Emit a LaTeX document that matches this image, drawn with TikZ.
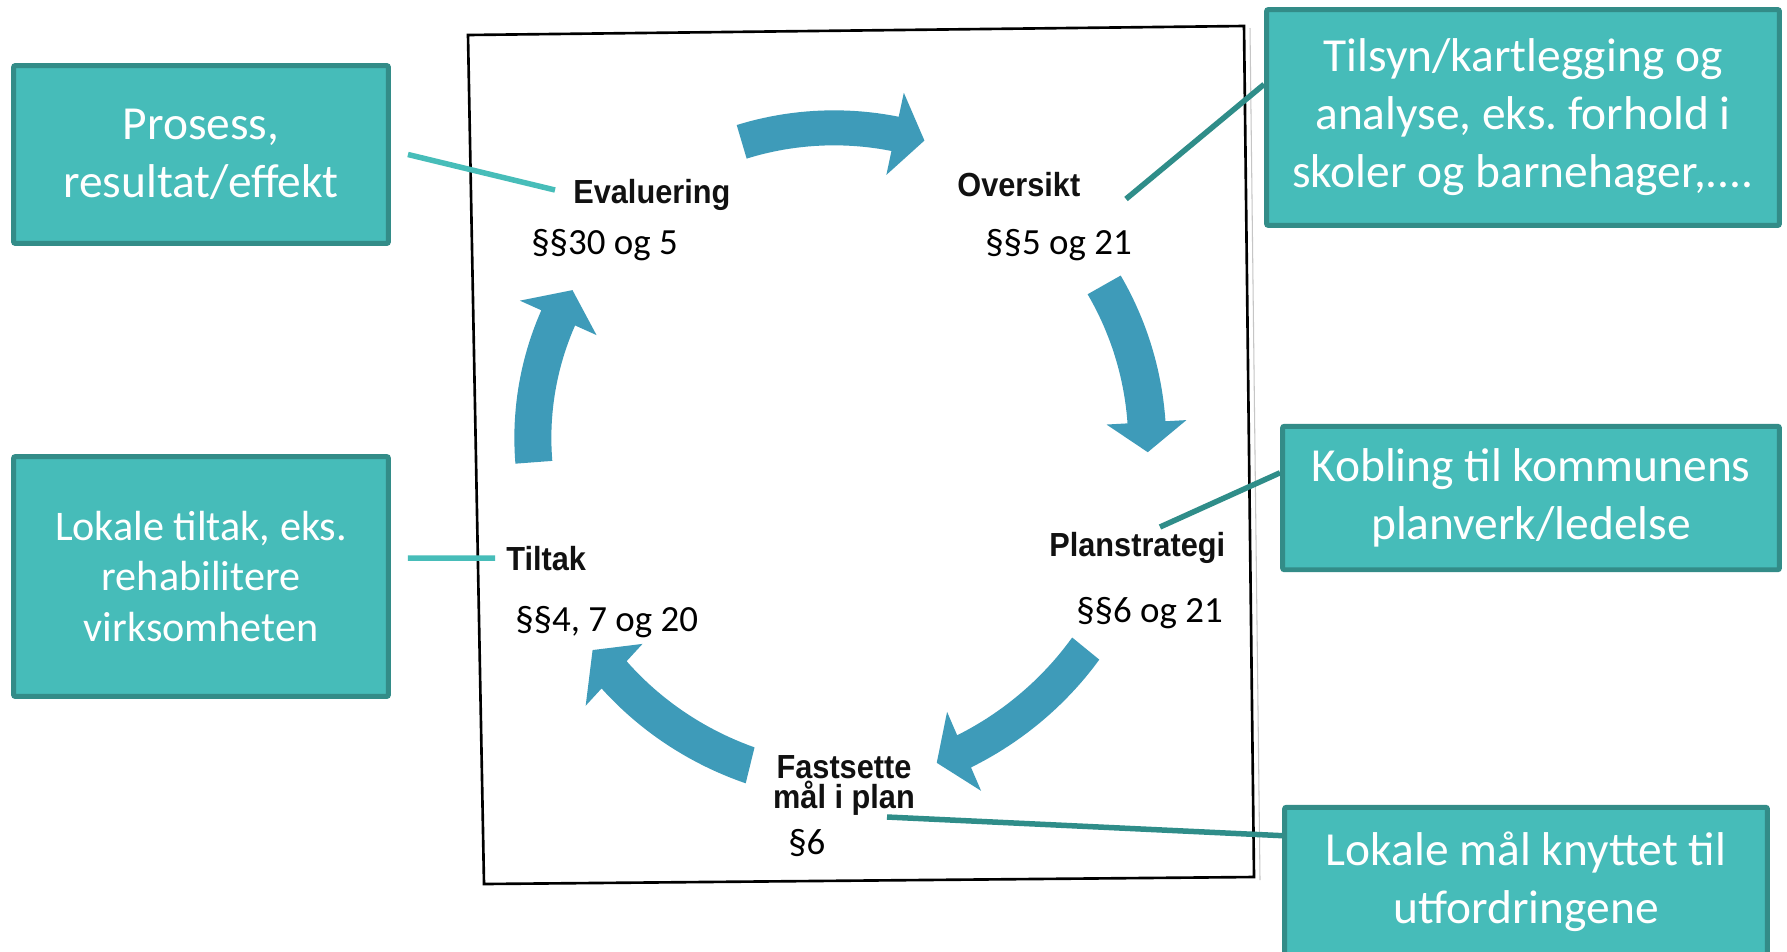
\documentclass[tikz,border=0pt]{standalone}
\usepackage{fontspec}
\setmainfont{Carlito}
\newfontfamily\scanfont{Liberation Sans}[FakeStretch=0.92]
\usetikzlibrary{calc}
\frenchspacing
\definecolor{boxfill}{HTML}{46BCB9}
\definecolor{boxline}{HTML}{338C88}
\definecolor{lightline}{HTML}{47BDB9}
\definecolor{darkline}{HTML}{2F8D89}
\definecolor{cyc}{HTML}{3E9BB9}
\definecolor{ink}{HTML}{111111}
\newcommand{\cycarrow}[8]{%
 \fill[cyc] plot[domain=#6:#7,samples=24] ({830+(#1+(#2-#1)*(\x-#6)/(#7-#6)+#4)*cos(\x)},{440+(#1+(#2-#1)*(\x-#6)/(#7-#6)+#4)*sin(\x)})
 -- ({830+(#2+#5)*cos(#7)},{440+(#2+#5)*sin(#7)})
 -- ({830+#3*cos(#8)},{440+#3*sin(#8)})
 -- ({830+(#2-#5)*cos(#7)},{440+(#2-#5)*sin(#7)})
 -- plot[domain=#7:#6,samples=24] ({830+(#1+(#2-#1)*(\x-#6)/(#7-#6)-#4)*cos(\x)},{440+(#1+(#2-#1)*(\x-#6)/(#7-#6)-#4)*sin(\x)})
 -- cycle;}
\tikzset{
  tealbox/.style={draw=boxline, fill=boxfill, line width=0.1cm, rounded corners=0.04cm,
    text=white, align=center, inner sep=0pt, font=\fontsize{27}{33}\selectfont},
  scanlbl/.style={inner sep=0pt, text=ink, font=\scanfont\bfseries\fontsize{19}{15.5}\selectfont},
  paralbl/.style={inner sep=0pt, text=black, font=\fontsize{21}{25}\selectfont},
  lightconn/.style={draw=lightline, line width=0.11cm},
  darkconn/.style={draw=darkline, line width=0.11cm},
  scanframe/.style={draw=black, line width=1.5pt, line join=miter}
}
\begin{document}
\begin{tikzpicture}[x=0.02cm, y=-0.02cm]
\useasboundingbox (0,0) rectangle (1787,951);
\clip (0,0) rectangle (1787,951);
\fill[white] (0,0) rectangle (1787,951);

% scanned page frame
\draw[scanframe] (468,35) -- (1244,26) -- (1254,877) -- (484,884) -- cycle;
\draw[gray!45, line width=0.6pt] (1250,28) -- (1260,880);

% cycle arrows
\cycarrow{311}{313}{314}{17.5}{42}{253.5}{282}{287.5}
\cycarrow{315}{317}{318}{19}{40}{330.5}{356.8}{362.2}
\cycarrow{330}{339}{340}{17.5}{43}{39.2}{66.7}{71.7}
\cycarrow{335}{319}{317}{18.5}{42}{103.8}{132.6}{138.5}
\cycarrow{297}{298}{298}{18.5}{42}{175.7}{204.2}{210.2}

% scanned labels
\node[scanlbl, anchor=base west] (eval) at (573,203) {Evaluering};
\node[scanlbl, anchor=base west] (overs) at (957,196) {Oversikt};
\node[scanlbl, anchor=base west] (plan) at (1049,556) {Planstrategi};
\node[scanlbl, anchor=base west] (tilt) at (506,570) {Tiltak};
\node[scanlbl, anchor=base, align=center] (fast) at (844,808) {Fastsette\\mål i plan};

% paragraph labels
\node[paralbl, anchor=base west] (p1) at (531,254) {§§30 og 5};
\node[paralbl, anchor=base west] (p2) at (985,254) {§§5 og 21};
\node[paralbl, anchor=base west] (p3) at (1076,622) {§§6 og 21};
\node[paralbl, anchor=base west] (p4) at (515,631) {§§4, 7 og 20};
\node[paralbl, anchor=base west] (p5) at (788,854) {§6};

% teal boxes
\node[tealbox, minimum width=7.5cm, minimum height=3.56cm] (box1) at (201,154.5) {Prosess,\\resultat/effekt};
\node[tealbox, minimum width=10.26cm, minimum height=4.32cm] (box2) at (1523,117.5) {Tilsyn/kartlegging og\\analyse, eks. forhold i\\skoler og barnehager,....};
\node[tealbox, minimum width=7.5cm, minimum height=4.8cm, font=\fontsize{24}{29}\selectfont] (box3) at (201,576.5) {Lokale tiltak, eks.\\rehabilitere\\virksomheten};
\node[tealbox, minimum width=9.94cm, minimum height=2.87cm] (box4) at (1531,498) {Kobling til kommunens\\planverk/ledelse};
\node[tealbox, minimum width=9.66cm, minimum height=2.99cm] (box5) at (1526,882) {Lokale mål knyttet til\\utfordringene};

% connector end points near the scanned labels
\coordinate (evalpt) at (555,190);
\coordinate (overspt) at (1126,199);
\coordinate (tiltpt) at (495,558);
\coordinate (planpt) at (1160,527);
\coordinate (fastpt) at (887,817);

% connectors
\draw[lightconn] ($(box1.east)+(17,0)$) -- (evalpt);
\draw[darkconn] (overspt) -- ($(box2.north west)!0.35!(box2.south west)$);
\draw[lightconn] ($($(box3.north east)!0.425!(box3.south east)$)+(17,0)$) -- (tiltpt);
\draw[darkconn] (planpt) -- ($(box4.north west)!0.33!(box4.south west)$);
\draw[darkconn] (fastpt) -- ($(box5.north west)!0.2!(box5.south west)$);
\end{tikzpicture}
\end{document}
